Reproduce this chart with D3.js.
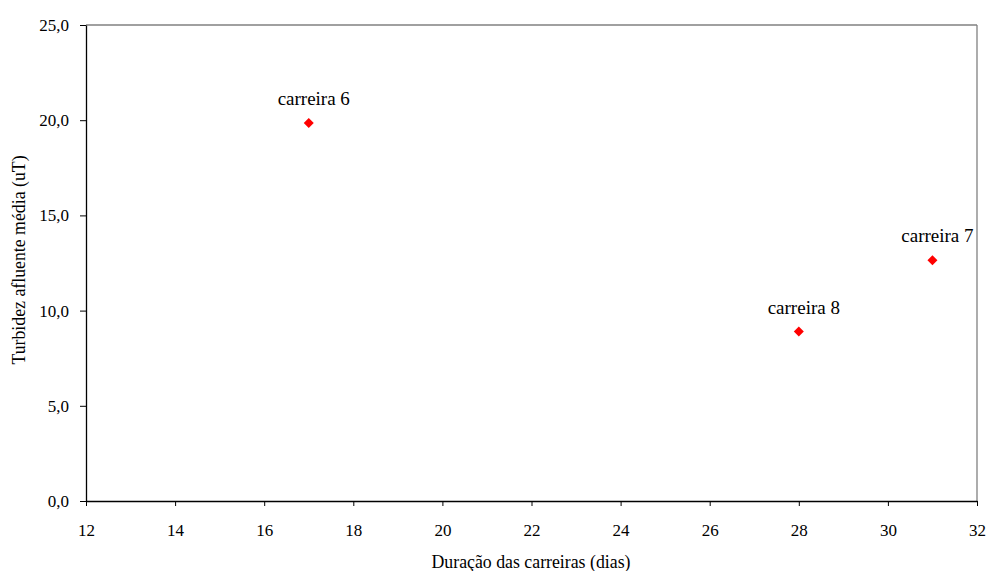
<!DOCTYPE html>
<html><head><meta charset="utf-8">
<script src="https://cdn.jsdelivr.net/npm/d3@7"></script>
<style>body{margin:0;background:#fff}svg{display:block}</style>
</head><body><svg id="c" width="988" height="571"></svg>
<script>
const labels = ["carreira 6", "carreira 7", "carreira 8"];
const duracao = [17, 31, 28];
const turbidez = [19.85, 12.65, 8.9];
const xTicks = [12,14,16,18,20,22,24,26,28,30,32];
const yTicks = [0,5,10,15,20,25];

const FF = "Liberation Serif";
const svg = d3.select("#c").attr("font-family",FF);
const L=86, R=977, T=25, B=501;
const x = d3.scaleLinear().domain([12,32]).range([L,R]);
const y = d3.scaleLinear().domain([0,25]).range([B,T]);

svg.append("line").attr("x1",L).attr("x2",R).attr("y1",T).attr("y2",T).attr("stroke","#808080").attr("stroke-width",1.3);
svg.append("line").attr("x1",R).attr("x2",R).attr("y1",T).attr("y2",B).attr("stroke","#808080").attr("stroke-width",1.3);

const xa = svg.append("g").attr("transform",`translate(0,${B})`)
  .call(d3.axisBottom(x).tickValues(xTicks).tickSize(5).tickSizeOuter(0).tickPadding(18).tickFormat(d3.format("d")));
const ya = svg.append("g").attr("transform",`translate(${L},0)`)
  .call(d3.axisLeft(y).tickValues(yTicks).tickSize(6).tickSizeOuter(0).tickPadding(11).tickFormat(d=>d.toFixed(1).replace(".",",")));
[xa,ya].forEach(a=>{
  a.attr("font-family",FF).attr("font-size",17);
  a.selectAll("path").attr("stroke","#000").attr("stroke-width",1.3);
  a.selectAll("line").attr("stroke","#000").attr("stroke-width",1);
  a.selectAll("text").attr("fill","#000").attr("font-family",FF);
});

svg.append("text").attr("x",531).attr("y",568).attr("text-anchor","middle").attr("font-size",17.8).attr("font-family",FF).text("Duração das carreiras (dias)");
svg.append("text").attr("transform",`translate(25,260) rotate(-90)`).attr("text-anchor","middle").attr("font-size",17.8).attr("font-family",FF).text("Turbidez afluente média (uT)");

const pts = labels.map((l,i)=>({l,x:duracao[i],y:turbidez[i]}));
svg.selectAll("path.pt").data(pts).enter().append("path").attr("class","pt")
  .attr("d",d3.symbol(d3.symbolSquare,50)())
  .attr("transform",d=>`translate(${x(d.x)},${y(d.y)}) rotate(45)`).attr("fill","#ff0000");
svg.selectAll("text.lb").data(pts).enter().append("text").attr("class","lb")
  .attr("x",d=>x(d.x)+5).attr("y",d=>y(d.y)-18).attr("text-anchor","middle").attr("font-size",19).attr("font-family",FF).text(d=>d.l);
</script></body></html>
